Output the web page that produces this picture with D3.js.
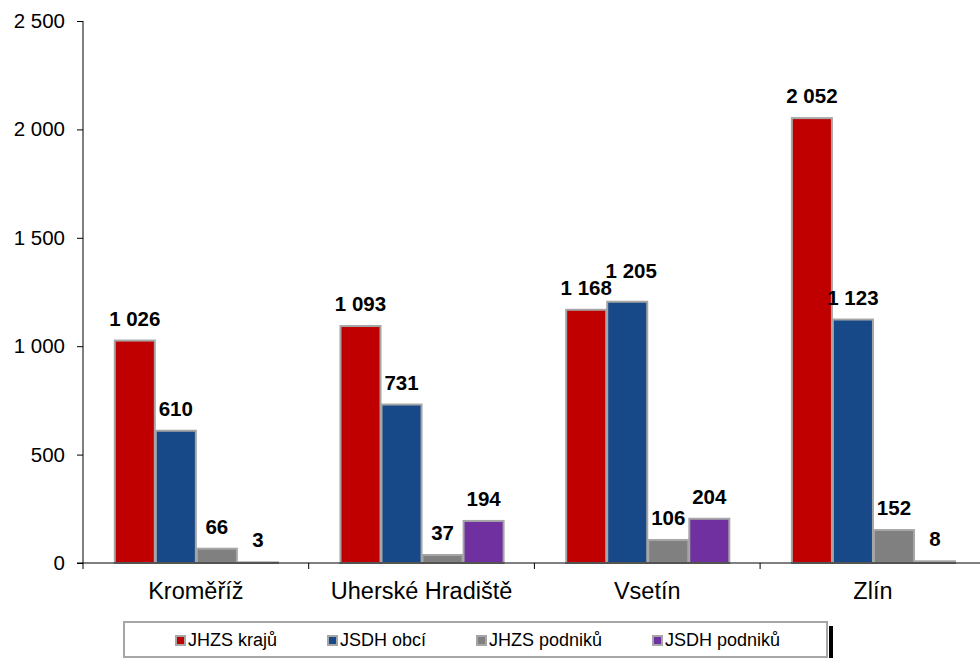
<!DOCTYPE html>
<html><head><meta charset="utf-8">
<script src="https://cdn.jsdelivr.net/npm/d3@7"></script>
<style>body{margin:0;background:#fff}svg{display:block}</style>
</head><body>
<script>
const categories = ["Kroměříž", "Uherské Hradiště", "Vsetín", "Zlín"];
const seriesNames = ["JHZS krajů", "JSDH obcí", "JHZS podniků", "JSDH podniků"];
const jhzsKraju = [1026, 1093, 1168, 2052];
const jsdhObci = [610, 731, 1205, 1123];
const jhzsPodniku = [66, 37, 106, 152];
const jsdhPodniku = [3, 194, 204, 8];
const yTicks = [0, 500, 1000, 1500, 2000, 2500];
const colors = ["#C00000", "#174888", "#808080", "#7030A0"];

const series = [jhzsKraju, jsdhObci, jhzsPodniku, jsdhPodniku];
const W = 980, H = 658;
const FONT = "Liberation Sans, Arial, sans-serif";
const svg = d3.select("body").append("svg").attr("width", W).attr("height", H);
const fmt = v => d3.format(",")(v).replace(/,/g, " ");

const x0 = 83, plotW = 4 * 225.7;
const x = d3.scaleBand().domain(categories).range([x0, x0 + plotW]).padding(0);
const y = d3.scaleLinear().domain([0, 2500]).range([563, 21]);
const bw = x.bandwidth() / 5.5;
const xs = d3.scaleBand().domain(d3.range(4)).range([0.75 * bw, 0.75 * bw + 4 * bw]).padding(0);

// bars
series.forEach((vals, si) => {
  svg.append("g").selectAll("rect").data(vals).join("rect")
    .attr("x", (d, i) => x(categories[i]) + xs(si) + 1)
    .attr("y", d => y(d))
    .attr("width", xs.bandwidth() - 1)
    .attr("height", d => y(0) - y(d))
    .attr("fill", colors[si])
    .attr("stroke", "#A6A6A6").attr("stroke-width", 2);
});

// labels with simple collision avoidance within a category
const FS = 20.5;
const labels = [];
categories.forEach((c, ci) => {
  let prev = null;
  series.forEach((vals, si) => {
    const v = vals[ci];
    const txt = fmt(v);
    const w = txt.length * FS * 0.53;
    let lx = x(c) + xs(si) + xs.bandwidth() / 2 + 0.5;
    let ly = y(v) - 15;
    if (prev && (lx - w / 2) < (prev.x + prev.w / 2) && Math.abs(ly - prev.y) < FS * 0.85) {
      ly = Math.min(ly, prev.y - 17);
      lx += 4;
    }
    const lab = {x: lx, y: ly, w: w, t: txt};
    labels.push(lab);
    prev = lab;
  });
});
svg.append("g").selectAll("text").data(labels).join("text")
  .attr("x", d => d.x).attr("y", d => d.y)
  .attr("text-anchor", "middle")
  .attr("font-family", FONT)
  .attr("font-weight", "bold").attr("font-size", FS)
  .attr("fill", "#000")
  .text(d => d.t);

// y axis
const yAxis = svg.append("g").attr("transform", `translate(${x0},0)`)
  .call(d3.axisLeft(y).tickValues(yTicks).tickSize(6).tickPadding(12).tickFormat(fmt));
yAxis.select(".domain").attr("stroke", "#000").attr("d", `M0,${y(2500)}V${y(0)}`);
yAxis.selectAll("line").attr("stroke", "#000");
yAxis.selectAll("text").attr("font-family", FONT).attr("font-size", 20.5).attr("fill", "#000");

// x axis
const xAxis = svg.append("g").attr("transform", `translate(0,${y(0)})`)
  .call(d3.axisBottom(x).tickSize(0).tickPadding(19));
xAxis.select(".domain").attr("d", `M${x0 - 6},0H${W}`).attr("stroke", "#000");
xAxis.selectAll("text").attr("font-family", FONT).attr("font-size", 23.5).attr("fill", "#000");
svg.append("g").selectAll("line").data(categories).join("line")
  .attr("x1", d => x(d)).attr("x2", d => x(d))
  .attr("y1", y(0)).attr("y2", y(0) + 6).attr("stroke", "#000");

// legend
const lg = svg.append("g");
lg.append("rect").attr("x", 829).attr("y", 626).attr("width", 4).attr("height", 32).attr("fill", "#000");
lg.append("rect").attr("x", 124).attr("y", 622).attr("width", 703).attr("height", 35)
  .attr("fill", "#fff").attr("stroke", "#A6A6A6").attr("stroke-width", 2);
const lx = [175, 327, 476, 652];
seriesNames.forEach((n, i) => {
  lg.append("rect").attr("x", lx[i] + 1).attr("y", 636).attr("width", 9).attr("height", 9)
    .attr("fill", colors[i]).attr("stroke", "#A6A6A6").attr("stroke-width", 2);
  lg.append("text").attr("x", lx[i] + 13).attr("y", 646)
    .attr("font-family", FONT).attr("font-size", 18).attr("fill", "#000")
    .text(n);
});
</script>
</body></html>
